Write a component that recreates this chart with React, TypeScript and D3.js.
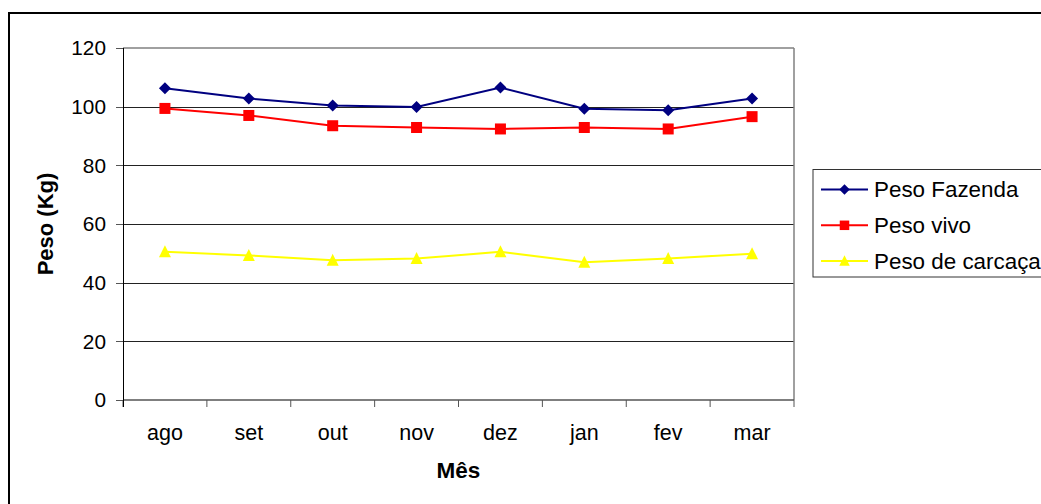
import React from "react";
import * as d3 from "d3";

const months = ["ago", "set", "out", "nov", "dez", "jan", "fev", "mar"];
const pesoFazenda = [106.3, 102.8, 100.4, 99.9, 106.5, 99.3, 98.8, 102.8];
const pesoVivo = [99.4, 97.0, 93.5, 92.9, 92.4, 92.9, 92.4, 96.6];
const pesoCarcaca = [50.5, 49.3, 47.6, 48.2, 50.5, 47.0, 48.2, 49.9];
const yTicks = [0, 20, 40, 60, 80, 100, 120];
const seriesNames = ["Peso Fazenda", "Peso vivo", "Peso de carcaça"];

const FONT = "'Liberation Sans', Arial, sans-serif";

type Shape = "diamond" | "square" | "triangle";

function Marker({ x, y, shape, color, size }: { x: number; y: number; shape: Shape; color: string; size: number }) {
  const h = size / 2;
  if (shape === "diamond") {
    return <path d={`M${x},${y - h - 0.5}L${x + h + 0.5},${y}L${x},${y + h + 0.5}L${x - h - 0.5},${y}Z`} fill={color} />;
  }
  if (shape === "square") {
    return <rect x={x - h} y={y - h} width={size} height={size} fill={color} />;
  }
  return <path d={`M${x},${y - h - 1}L${x + h + 0.5},${y + h}L${x - h - 0.5},${y + h}Z`} fill={color} />;
}

export default function App() {
  const left = 123, right = 794, top = 48, bottom = 400;
  const x = d3.scaleBand<string>().domain(months).range([left, right]);
  const y = d3.scaleLinear().domain([0, 120]).range([bottom, top]);
  const line = d3
    .line<number>()
    .x((_, i) => (x(months[i]) as number) + x.bandwidth() / 2)
    .y((d) => y(d));

  const series = [
    { name: seriesNames[0], data: pesoFazenda, color: "#000080", shape: "diamond" as Shape },
    { name: seriesNames[1], data: pesoVivo, color: "#FF0000", shape: "square" as Shape },
    { name: seriesNames[2], data: pesoCarcaca, color: "#FFFF00", shape: "triangle" as Shape },
  ];

  const boundaries = months.map((m) => x(m) as number).concat([right]);

  return (
    <svg
      width={1041}
      height={504}
      style={{ position: "fixed", left: 0, top: 0, background: "#fff" }}
      fontFamily={FONT}
    >
      <rect x={0} y={0} width={1041} height={504} fill="#fff" />
      {/* outer chart border */}
      <rect x={9} y={13} width={1100} height={600} fill="none" stroke="#000" strokeWidth={2} />

      {/* gridlines */}
      {yTicks
        .filter((t) => t > 0 && t < 120)
        .map((t) => (
          <line key={t} x1={left} x2={right} y1={Math.round(y(t)) + 0.5} y2={Math.round(y(t)) + 0.5} stroke="#222" strokeWidth={1} />
        ))}
      {/* plot border top/right */}
      <line x1={left} x2={right} y1={top} y2={top} stroke="#808080" strokeWidth={1.5} />
      <line x1={right} x2={right} y1={top} y2={bottom} stroke="#808080" strokeWidth={1.5} />
      {/* x axis */}
      <line x1={left} x2={right} y1={bottom} y2={bottom} stroke="#555" strokeWidth={1.5} />
      {boundaries.map((b, i) => (
        <line key={i} x1={b} x2={b} y1={bottom} y2={bottom + 7} stroke="#555" strokeWidth={1} />
      ))}
      {/* y axis */}
      <line x1={left + 0.5} x2={left + 0.5} y1={top} y2={bottom + 7} stroke="#000" strokeWidth={1} />
      {yTicks.map((t) => (
        <g key={t}>
          <line x1={116} x2={left} y1={Math.round(y(t)) + 0.5} y2={Math.round(y(t)) + 0.5} stroke="#555" strokeWidth={1} />
          <text x={106} y={y(t)} dy="0.35em" textAnchor="end" fontSize={20.8} fill="#000">
            {t}
          </text>
        </g>
      ))}
      {months.map((m) => (
        <text key={m} x={(x(m) as number) + x.bandwidth() / 2} y={440} textAnchor="middle" fontSize={21.5} fill="#000">
          {m}
        </text>
      ))}

      {/* series */}
      {series.map((s) => (
        <g key={s.name}>
          <path d={line(s.data) || ""} fill="none" stroke={s.color} strokeWidth={2} />
          {s.data.map((v, i) => (
            <Marker
              key={i}
              x={(x(months[i]) as number) + x.bandwidth() / 2}
              y={y(v)}
              shape={s.shape}
              color={s.color}
              size={11}
            />
          ))}
        </g>
      ))}

      {/* axis titles */}
      <text x={(left + right) / 2} y={478} textAnchor="middle" fontSize={22.5} fontWeight="bold" fill="#000">
        Mês
      </text>
      <text
        transform={`translate(53,${(top + bottom) / 2}) rotate(-90)`}
        textAnchor="middle"
        fontSize={22}
        fontWeight="bold"
        fill="#000"
      >
        Peso (Kg)
      </text>

      {/* legend */}
      <rect x={813} y={169.5} width={300} height={107.5} fill="#fff" stroke="#333" strokeWidth={1} />
      {series.map((s, i) => {
        const ly = 189.5 + i * 35.8;
        return (
          <g key={s.name}>
            <line x1={821} x2={868} y1={ly} y2={ly} stroke={s.color} strokeWidth={2} />
            <Marker x={844.5} y={ly} shape={s.shape} color={s.color} size={9.5} />
            <text x={874} y={ly} dy="0.35em" fontSize={22.4} fill="#000">
              {s.name}
            </text>
          </g>
        );
      })}
    </svg>
  );
}
